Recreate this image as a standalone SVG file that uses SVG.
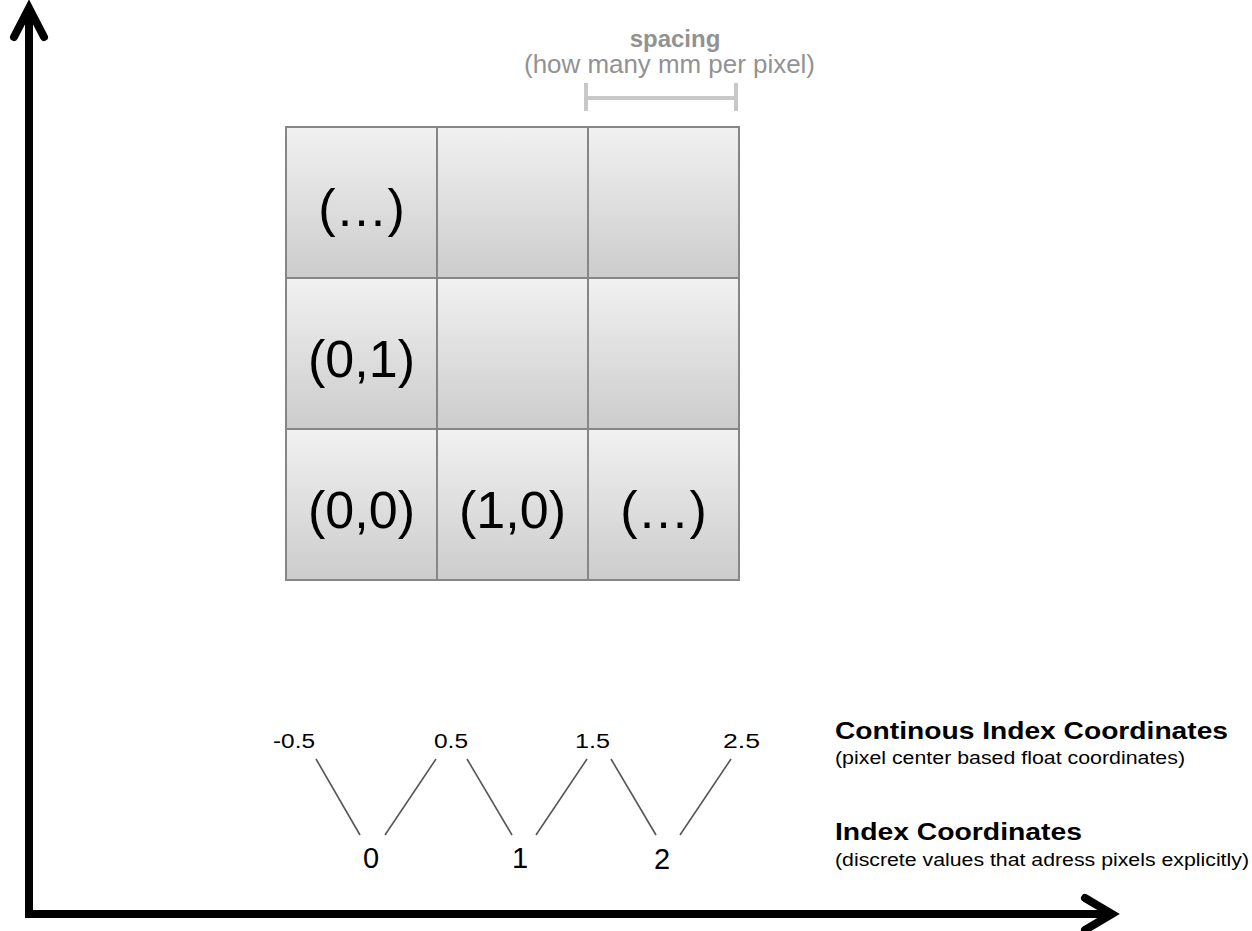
<svg xmlns="http://www.w3.org/2000/svg" width="1252" height="931" viewBox="0 0 1252 931">
<style>
.cell{fill:url(#cg);stroke:#868686;stroke-width:2}
.big{font-family:"Liberation Sans",Arial,sans-serif;font-size:52px;fill:#000;text-anchor:middle}
.lbl{font-family:"Liberation Sans",Arial,sans-serif;font-size:20px;fill:#000;text-anchor:middle}
.idx{font-family:"Liberation Sans",Arial,sans-serif;font-size:29px;fill:#000;text-anchor:middle}
.hd{font-family:"Liberation Sans",Arial,sans-serif;font-size:23px;font-weight:bold;fill:#000}
.sub{font-family:"Liberation Sans",Arial,sans-serif;font-size:17.5px;fill:#000}
.tick{stroke:#555;stroke-width:1.6;fill:none}
.axis{stroke:#000;stroke-width:8;fill:none;stroke-linecap:round;stroke-linejoin:miter}
.brk{stroke:#c8c8c8;stroke-width:4;fill:none}
</style>
<defs>
<linearGradient id="cg" x1="0" y1="0" x2="0" y2="1">
<stop offset="0" stop-color="#f1f1f1"/>
<stop offset="1" stop-color="#cccccc"/>
</linearGradient>
</defs>
<rect width="1252" height="931" fill="#fff"/>
<g id="axes">
<path class="axis" d="M29,915 V10" style="stroke-linecap:butt"/>
<path class="axis" d="M25,914 H1108" style="stroke-linecap:butt"/>
<polyline class="axis" points="14,37 29,8 44,37"/>
<polyline class="axis" points="1085,898 1112,914 1085,930"/>
</g>
<g id="spacing">
<text x="675" y="47" font-family="Liberation Sans, Arial, sans-serif" font-size="24" font-weight="bold" fill="#929292" text-anchor="middle">spacing</text>
<text x="524" y="73" font-family="Liberation Sans, Arial, sans-serif" font-size="25" fill="#929292" textLength="291" lengthAdjust="spacingAndGlyphs">(how many mm per pixel)</text>
<path class="brk" d="M586,83 V111 M736,83 V111 M586,98 H736"/>
</g>
<g id="grid">
<g id="c02"><rect class="cell" x="286" y="127" width="151" height="151"/><text class="big" x="361.5" y="226">(…)</text></g>
<g id="c12"><rect class="cell" x="437" y="127" width="151" height="151"/></g>
<g id="c22"><rect class="cell" x="588" y="127" width="151" height="151"/></g>
<g id="c01"><rect class="cell" x="286" y="278" width="151" height="151"/><text class="big" x="361.5" y="377">(0,1)</text></g>
<g id="c11"><rect class="cell" x="437" y="278" width="151" height="151"/></g>
<g id="c21"><rect class="cell" x="588" y="278" width="151" height="151"/></g>
<g id="c00"><rect class="cell" x="286" y="429" width="151" height="151"/><text class="big" x="361.5" y="528">(0,0)</text></g>
<g id="c10"><rect class="cell" x="437" y="429" width="151" height="151"/><text class="big" x="512.5" y="528">(1,0)</text></g>
<g id="c20"><rect class="cell" x="588" y="429" width="151" height="151"/><text class="big" x="663.5" y="528">(…)</text></g>
</g>
<g id="continuous-labels">
<text class="lbl" x="294" y="748" textLength="42" lengthAdjust="spacingAndGlyphs">-0.5</text>
<text class="lbl" x="451" y="748" textLength="34" lengthAdjust="spacingAndGlyphs">0.5</text>
<text class="lbl" x="592.5" y="748" textLength="35" lengthAdjust="spacingAndGlyphs">1.5</text>
<text class="lbl" x="741.5" y="748" textLength="37" lengthAdjust="spacingAndGlyphs">2.5</text>
</g>
<g id="index-labels">
<text class="idx" x="371" y="868">0</text>
<text class="idx" x="520" y="868">1</text>
<text class="idx" x="662" y="869">2</text>
</g>
<g id="connectors">
<line class="tick" x1="316" y1="759" x2="360" y2="835"/>
<line class="tick" x1="436" y1="759" x2="385" y2="835"/>
<line class="tick" x1="467" y1="759" x2="512" y2="835"/>
<line class="tick" x1="587" y1="759" x2="536" y2="835"/>
<line class="tick" x1="611" y1="759" x2="656" y2="835"/>
<line class="tick" x1="731" y1="759" x2="680" y2="835"/>
</g>
<g id="legend">
<text class="hd" x="835" y="739" textLength="393" lengthAdjust="spacingAndGlyphs">Continous Index Coordinates</text>
<text class="sub" x="835" y="764" textLength="350" lengthAdjust="spacingAndGlyphs">(pixel center based float coordinates)</text>
<text class="hd" x="835" y="840" textLength="247" lengthAdjust="spacingAndGlyphs">Index Coordinates</text>
<text class="sub" x="835" y="866" textLength="414" lengthAdjust="spacingAndGlyphs">(discrete values that adress pixels explicitly)</text>
</g>
</svg>
